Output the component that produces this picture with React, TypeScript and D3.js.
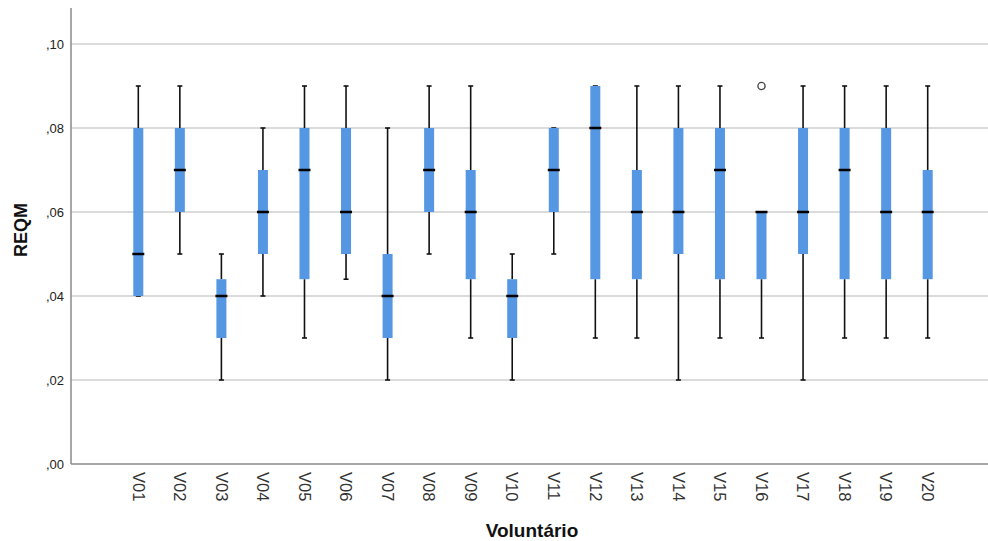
import React from "react";
import * as d3 from "d3";

// Box-plot summary per volunteer
const categories = ["V01","V02","V03","V04","V05","V06","V07","V08","V09","V10","V11","V12","V13","V14","V15","V16","V17","V18","V19","V20"];
const whiskerLow = [0.04,0.05,0.02,0.04,0.03,0.044,0.02,0.05,0.03,0.02,0.05,0.03,0.03,0.02,0.03,0.03,0.02,0.03,0.03,0.03];
const q1 =         [0.04,0.06,0.03,0.05,0.044,0.05,0.03,0.06,0.044,0.03,0.06,0.044,0.044,0.05,0.044,0.044,0.05,0.044,0.044,0.044];
const median =     [0.05,0.07,0.04,0.06,0.07,0.06,0.04,0.07,0.06,0.04,0.07,0.08,0.06,0.06,0.07,0.06,0.06,0.07,0.06,0.06];
const q3 =         [0.08,0.08,0.044,0.07,0.08,0.08,0.05,0.08,0.07,0.044,0.08,0.09,0.07,0.08,0.08,0.06,0.08,0.08,0.08,0.07];
const whiskerHigh = [0.09,0.09,0.05,0.08,0.09,0.09,0.08,0.09,0.09,0.05,0.08,0.09,0.09,0.09,0.09,0.06,0.09,0.09,0.09,0.09];
const outliers: { cat: string; value: number }[] = [{ cat: "V16", value: 0.09 }];
const yTicks = [0, 0.02, 0.04, 0.06, 0.08, 0.1];

const W = 988, H = 541;
const axisX = 71, axisBottom = 464, axisTop = 8;

export default function App() {
  const x = d3.scalePoint<string>().domain(categories).range([138.3, 927.7]);
  const y = d3.scaleLinear().domain([0, 0.1]).range([464, 44]);
  const fmt = (v: number) => d3.format(".2f")(v).replace(/^0\./, ",");
  const boxW = 10;
  const capW = 5;
  const medW = 12;
  const font = "'Liberation Sans', Arial, sans-serif";

  return (
    <svg width={W} height={H} style={{ position: "absolute", left: 0, top: 0, background: "#fff" }}>
      {/* grid */}
      {yTicks.filter(t => t > 0).map(t => (
        <line key={"g" + t} x1={axisX} x2={W} y1={y(t)} y2={y(t)} stroke="#cfcfcf" strokeWidth={1.5} />
      ))}
      {/* axes */}
      <line x1={axisX} x2={axisX} y1={axisTop} y2={axisBottom} stroke="#8a8a8a" strokeWidth={1.5} />
      <line x1={axisX} x2={W} y1={axisBottom} y2={axisBottom} stroke="#8a8a8a" strokeWidth={1.5} />
      {yTicks.map(t => (
        <text key={"t" + t} x={64} y={y(t)} dy="0.35em" textAnchor="end" fontFamily={font} fontSize={13} fill="#222">
          {fmt(t)}
        </text>
      ))}
      {/* boxes */}
      {categories.map((c, i) => {
        const cx = x(c)!;
        return (
          <g key={c}>
            <line x1={cx} x2={cx} y1={y(whiskerHigh[i])} y2={y(q3[i])} stroke="#111" strokeWidth={1.6} />
            <line x1={cx} x2={cx} y1={y(q1[i])} y2={y(whiskerLow[i])} stroke="#111" strokeWidth={1.6} />
            <line x1={cx - capW / 2} x2={cx + capW / 2} y1={y(whiskerHigh[i])} y2={y(whiskerHigh[i])} stroke="#111" strokeWidth={1.6} />
            <line x1={cx - capW / 2} x2={cx + capW / 2} y1={y(whiskerLow[i])} y2={y(whiskerLow[i])} stroke="#111" strokeWidth={1.6} />
            <rect x={cx - boxW / 2} y={y(q3[i])} width={boxW} height={y(q1[i]) - y(q3[i])} fill="#5597e3" />
            <line x1={cx - medW / 2} x2={cx + medW / 2} y1={y(median[i])} y2={y(median[i])} stroke="#000" strokeWidth={2.5} />
            <text transform={`translate(${cx},${472}) rotate(90)`} dy="0.35em" fontFamily={font} fontSize={16.5} fill="#333">
              {c}
            </text>
          </g>
        );
      })}
      {outliers.map((o, k) => (
        <circle key={k} cx={x(o.cat)!} cy={y(o.value)} r={3.6} fill="none" stroke="#444" strokeWidth={1.3} />
      ))}
      {/* titles */}
      <text transform={`translate(27,${230}) rotate(-90)`} textAnchor="middle" fontFamily={font} fontWeight="bold" fontSize={18} fill="#111">
        REQM
      </text>
      <text x={532} y={537} textAnchor="middle" fontFamily={font} fontWeight="bold" fontSize={19} fill="#111">
        Voluntário
      </text>
    </svg>
  );
}
